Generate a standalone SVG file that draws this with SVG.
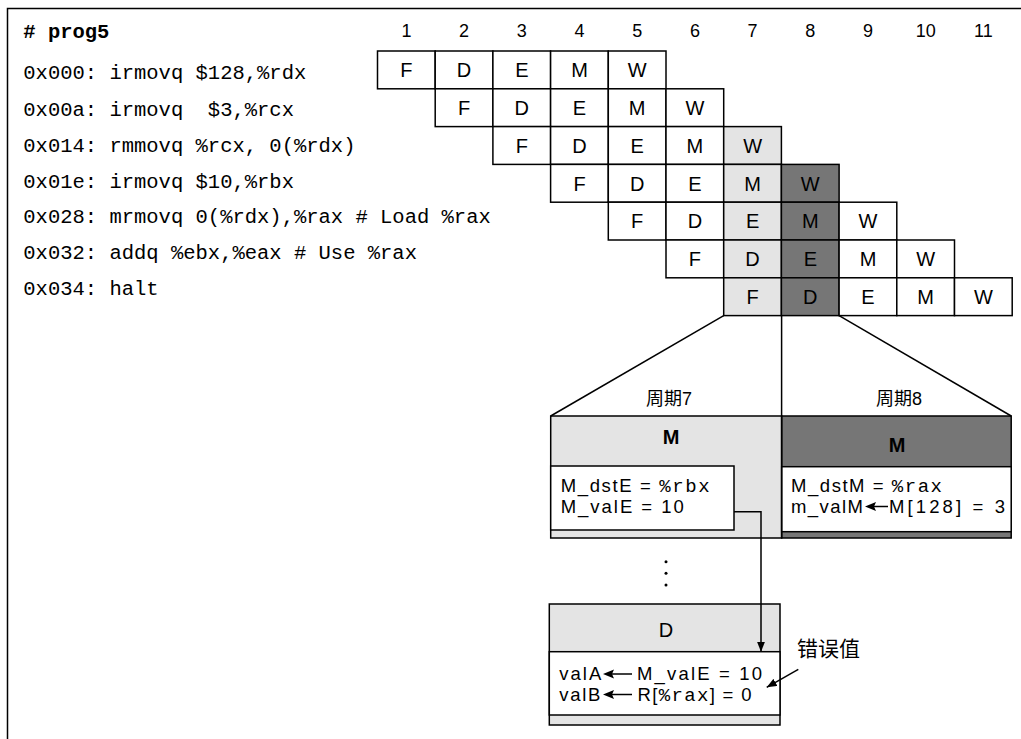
<svg xmlns="http://www.w3.org/2000/svg" width="1021" height="739" viewBox="0 0 1021 739">
<defs>
<style>
.mono{font-family:"Liberation Mono","DejaVu Sans Mono",monospace;font-size:20.5px;fill:#000;white-space:pre}
.b{font-weight:bold}
.num{font-family:"Liberation Sans",Arial,sans-serif;font-size:18px;text-anchor:middle;fill:#000}
.st{font-family:"Liberation Sans",Arial,sans-serif;font-size:20px;text-anchor:middle;fill:#000}
.sans{font-family:"Liberation Sans",Arial,sans-serif;font-size:18.5px;fill:#000}
.tt{font-family:"Liberation Mono","DejaVu Sans Mono",monospace;font-size:19px}
.cjk{font-family:"Liberation Sans","Noto Sans CJK SC",sans-serif;font-size:18px;text-anchor:middle;fill:#000}
.cjk2{font-family:"Noto Sans CJK SC",sans-serif;font-size:21px;fill:#000}
.cell{stroke:#000;stroke-width:1.5;fill:#fff}
.lt{fill:#e4e4e4}
.dk{fill:#767676}
.ln{stroke:#000;stroke-width:1.5;fill:none}
.box{stroke:#000;stroke-width:1.5}
</style>
<marker id="ah" viewBox="0 0 10 8" refX="10" refY="4" markerWidth="10" markerHeight="8" markerUnits="userSpaceOnUse" orient="auto">
<path d="M0,0 L10,4 L0,8 z" fill="#000"/>
</marker>
</defs>
<rect x="0" y="0" width="1021" height="739" fill="#fff"/>
<g id="frame">
<path class="ln" d="M7.5,739 V8.5 H1021"/>
</g>
<g id="program">
<text class="mono b" x="23.3" y="38"># prog5</text>
<text class="mono" x="23.3" y="79">0x000: irmovq $128,%rdx</text>
<text class="mono" x="23.3" y="115.5">0x00a: irmovq  $3,%rcx</text>
<text class="mono" x="23.3" y="152">0x014: rmmovq %rcx, 0(%rdx)</text>
<text class="mono" x="23.3" y="188">0x01e: irmovq $10,%rbx</text>
<text class="mono" x="23.3" y="223">0x028: mrmovq 0(%rdx),%rax # Load %rax</text>
<text class="mono" x="23.3" y="259">0x032: addq %ebx,%eax # Use %rax</text>
<text class="mono" x="23.3" y="294.5">0x034: halt</text>
</g>
<g id="cycles">
<text class="num" x="406.4" y="37">1</text>
<text class="num" x="464.1" y="37">2</text>
<text class="num" x="521.8" y="37">3</text>
<text class="num" x="579.5" y="37">4</text>
<text class="num" x="637.2" y="37">5</text>
<text class="num" x="694.9" y="37">6</text>
<text class="num" x="752.6" y="37">7</text>
<text class="num" x="810.3" y="37">8</text>
<text class="num" x="868.0" y="37">9</text>
<text class="num" x="925.7" y="37">10</text>
<text class="num" x="983.4" y="37">11</text>
</g>
<g id="row1">
<rect class="cell" x="377.5" y="51" width="57.7" height="37.8"/>
<rect class="cell" x="435.2" y="51" width="57.7" height="37.8"/>
<rect class="cell" x="492.9" y="51" width="57.7" height="37.8"/>
<rect class="cell" x="550.6" y="51" width="57.7" height="37.8"/>
<rect class="cell" x="608.3" y="51" width="57.7" height="37.8"/>
<text class="st" x="406.4" y="77.2">F</text><text class="st" x="464.1" y="77.2">D</text><text class="st" x="521.8" y="77.2">E</text><text class="st" x="579.5" y="77.2">M</text><text class="st" x="637.2" y="77.2">W</text>
</g>
<g id="row2">
<rect class="cell" x="435.2" y="88.8" width="57.7" height="37.8"/>
<rect class="cell" x="492.9" y="88.8" width="57.7" height="37.8"/>
<rect class="cell" x="550.6" y="88.8" width="57.7" height="37.8"/>
<rect class="cell" x="608.3" y="88.8" width="57.7" height="37.8"/>
<rect class="cell" x="666.0" y="88.8" width="57.7" height="37.8"/>
<text class="st" x="464.1" y="115">F</text><text class="st" x="521.8" y="115">D</text><text class="st" x="579.5" y="115">E</text><text class="st" x="637.2" y="115">M</text><text class="st" x="694.9" y="115">W</text>
</g>
<g id="row3">
<rect class="cell" x="492.9" y="126.6" width="57.7" height="37.8"/>
<rect class="cell" x="550.6" y="126.6" width="57.7" height="37.8"/>
<rect class="cell" x="608.3" y="126.6" width="57.7" height="37.8"/>
<rect class="cell" x="666.0" y="126.6" width="57.7" height="37.8"/>
<rect class="cell lt" x="723.7" y="126.6" width="57.7" height="37.8"/>
<text class="st" x="521.8" y="152.8">F</text><text class="st" x="579.5" y="152.8">D</text><text class="st" x="637.2" y="152.8">E</text><text class="st" x="694.9" y="152.8">M</text><text class="st" x="752.6" y="152.8">W</text>
</g>
<g id="row4">
<rect class="cell" x="550.6" y="164.4" width="57.7" height="37.8"/>
<rect class="cell" x="608.3" y="164.4" width="57.7" height="37.8"/>
<rect class="cell" x="666.0" y="164.4" width="57.7" height="37.8"/>
<rect class="cell lt" x="723.7" y="164.4" width="57.7" height="37.8"/>
<rect class="cell dk" x="781.4" y="164.4" width="57.7" height="37.8"/>
<text class="st" x="579.5" y="190.6">F</text><text class="st" x="637.2" y="190.6">D</text><text class="st" x="694.9" y="190.6">E</text><text class="st" x="752.6" y="190.6">M</text><text class="st" x="810.3" y="190.6">W</text>
</g>
<g id="row5">
<rect class="cell" x="608.3" y="202.2" width="57.7" height="37.8"/>
<rect class="cell" x="666.0" y="202.2" width="57.7" height="37.8"/>
<rect class="cell lt" x="723.7" y="202.2" width="57.7" height="37.8"/>
<rect class="cell dk" x="781.4" y="202.2" width="57.7" height="37.8"/>
<rect class="cell" x="839.1" y="202.2" width="57.7" height="37.8"/>
<text class="st" x="637.2" y="228.4">F</text><text class="st" x="694.9" y="228.4">D</text><text class="st" x="752.6" y="228.4">E</text><text class="st" x="810.3" y="228.4">M</text><text class="st" x="868.0" y="228.4">W</text>
</g>
<g id="row6">
<rect class="cell" x="666.0" y="240" width="57.7" height="37.8"/>
<rect class="cell lt" x="723.7" y="240" width="57.7" height="37.8"/>
<rect class="cell dk" x="781.4" y="240" width="57.7" height="37.8"/>
<rect class="cell" x="839.1" y="240" width="57.7" height="37.8"/>
<rect class="cell" x="896.8" y="240" width="57.7" height="37.8"/>
<text class="st" x="694.9" y="266.2">F</text><text class="st" x="752.6" y="266.2">D</text><text class="st" x="810.3" y="266.2">E</text><text class="st" x="868.0" y="266.2">M</text><text class="st" x="925.7" y="266.2">W</text>
</g>
<g id="row7">
<rect class="cell lt" x="723.7" y="277.8" width="57.7" height="37.8"/>
<rect class="cell dk" x="781.4" y="277.8" width="57.7" height="37.8"/>
<rect class="cell" x="839.1" y="277.8" width="57.7" height="37.8"/>
<rect class="cell" x="896.8" y="277.8" width="57.7" height="37.8"/>
<rect class="cell" x="954.5" y="277.8" width="57.7" height="37.8"/>
<text class="st" x="752.6" y="304">F</text><text class="st" x="810.3" y="304">D</text><text class="st" x="868.0" y="304">E</text><text class="st" x="925.7" y="304">M</text><text class="st" x="983.4" y="304">W</text>
</g>
<g id="cycle7">
<rect class="box lt" x="550.7" y="416" width="231" height="122"/>
<text class="st b" x="671" y="444">M</text>
<rect class="box" fill="#fff" x="550.7" y="466" width="183.3" height="64"/>
<text class="sans" x="560.7" y="492" textLength="149" lengthAdjust="spacing">M_dstE = <tspan class="tt">%rbx</tspan></text>
<text class="sans" x="560.7" y="513" textLength="123" lengthAdjust="spacing">M_valE = 10</text>
</g>
<g id="cycle8">
<rect class="box dk" x="781.7" y="416" width="229.5" height="122"/>
<text class="st b" x="897" y="452" fill="#111">M</text>
<rect class="box" fill="#fff" x="781.7" y="466.7" width="229.5" height="65"/>
<text class="sans" x="791" y="492" textLength="151" lengthAdjust="spacing">M_dstM = <tspan class="tt">%rax</tspan></text>
<text class="sans" x="791" y="513" textLength="72" lengthAdjust="spacing">m_valM</text>
<text class="sans" x="889" y="513" textLength="116" lengthAdjust="spacing">M[128] = 3</text>
<path d="M865,506.5 L876,502 L874,506.5 L876,511 z" fill="#000"/>
<path class="ln" d="M872,506.5 H888" stroke-width="1.6"/>
</g>
<g id="period-labels">
<text class="cjk" x="669" y="404.5">周期7</text>
<text class="cjk" x="899" y="404.5">周期8</text>
</g>
<g id="ellipsis">
<circle cx="666" cy="561.7" r="1.5" fill="#000"/>
<circle cx="666" cy="573.3" r="1.5" fill="#000"/>
<circle cx="666" cy="585" r="1.5" fill="#000"/>
</g>
<g id="decode">
<rect class="box lt" x="549.3" y="604" width="230.7" height="121"/>
<text class="st" x="666" y="636.5">D</text>
<rect class="box" fill="#fff" x="549.3" y="651.7" width="230.7" height="63.3"/>
<text class="sans" x="559.3" y="680" textLength="42" lengthAdjust="spacing">valA</text>
<text class="sans" x="637" y="680" textLength="125" lengthAdjust="spacing">M_valE = 10</text>
<path d="M603,674 L614,669.5 L612,674 L614,678.5 z" fill="#000"/>
<path class="ln" d="M610,674 H632" stroke-width="1.6"/>
<text class="sans" x="559.3" y="701" textLength="41" lengthAdjust="spacing">valB</text>
<text class="sans" x="637.5" y="701" textLength="114" lengthAdjust="spacing">R[<tspan class="tt">%rax</tspan>] = 0</text>
<path d="M603,694.5 L614,690 L612,694.5 L614,699 z" fill="#000"/>
<path class="ln" d="M610,694.5 H632" stroke-width="1.6"/>
</g>
<g id="error-label">
<text class="cjk2" x="797" y="656">错误值</text>
</g>
<g id="connectors">
<path class="ln" d="M723.7,315.6 L550.7,416"/>
<path class="ln" d="M839.1,315.6 L1011.2,416"/>
<path class="ln" d="M781.6,315.6 V538"/>
<path class="ln" d="M734,511.7 H761 V651.7" marker-end="url(#ah)"/>
<path class="ln" d="M798.3,669.3 L766.7,687.3" stroke-width="1.2" marker-end="url(#ah)"/>
</g>
</svg>
